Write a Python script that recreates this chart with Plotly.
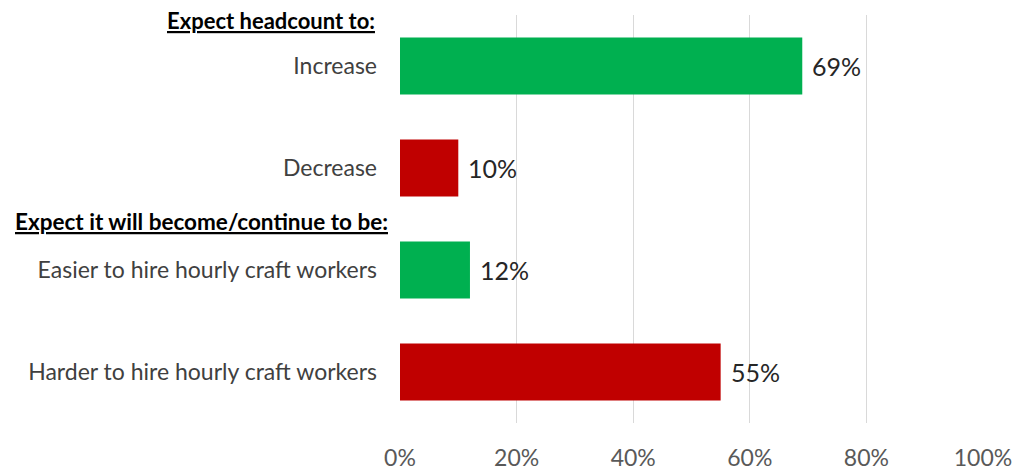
import plotly.graph_objects as go

categories = ["Increase", "Decrease", "Easier to hire hourly craft workers", "Harder to hire hourly craft workers"]
values = [0.69, 0.10, 0.12, 0.55]
value_labels = ["69%", "10%", "12%", "55%"]
colors = ["#00B050", "#C00000", "#00B050", "#C00000"]
headers = ["Expect headcount to:", "Expect it will become/continue to be:"]
x_ticks = [0, 0.2, 0.4, 0.6, 0.8, 1.0]
x_tick_labels = ["0%", "20%", "40%", "60%", "80%", "100%"]

FONT = "Lato, Open Sans, sans-serif"

fig = go.Figure(go.Bar(
    y=categories, x=values, orientation="h",
    marker=dict(color=colors, line=dict(width=0)),
    width=0.56,
    hoverinfo="skip",
))

annotations = []
for cat, v, lab in zip(categories, values, value_labels):
    annotations.append(dict(
        x=v, y=cat, xref="x", yref="y", text=lab, showarrow=False,
        xanchor="left", yanchor="middle", xshift=8,
        font=dict(size=25, color="#262626", family=FONT),
    ))

annotations += [
    dict(text="<b><u>" + headers[0] + "</u></b>", xref="paper", yref="paper",
         x=-0.0395, y=0.986, xanchor="right", yanchor="middle", showarrow=False,
         font=dict(size=22, color="#000000", family=FONT)),
    dict(text="<b><u>" + headers[1] + "</u></b>", xref="paper", yref="paper",
         x=-0.017, y=0.493, xanchor="right", yanchor="middle", showarrow=False,
         font=dict(size=22.5, color="#000000", family=FONT)),
]

# the page body has an 8px margin, so the figure is offset by 8px
fig.update_layout(
    width=1013, height=470,
    margin=dict(l=392, r=38, t=7, b=55),
    paper_bgcolor="white", plot_bgcolor="white",
    showlegend=False,
    font=dict(family=FONT),
    xaxis=dict(
        range=[0, 1.0], tickvals=x_ticks, ticktext=x_tick_labels,
        showgrid=True, gridcolor="#D9D9D9", gridwidth=1,
        zeroline=False, showline=False, automargin=False,
        tickfont=dict(size=23, color="#595959", family=FONT),
        ticklabelstandoff=19,
    ),
    yaxis=dict(
        categoryorder="array", categoryarray=categories[::-1],
        showgrid=False, zeroline=False, showline=False, automargin=False,
        tickfont=dict(size=23, color="#404040", family=FONT),
        ticklabelstandoff=22,
    ),
    annotations=annotations,
)

fig.write_html("out.html")
